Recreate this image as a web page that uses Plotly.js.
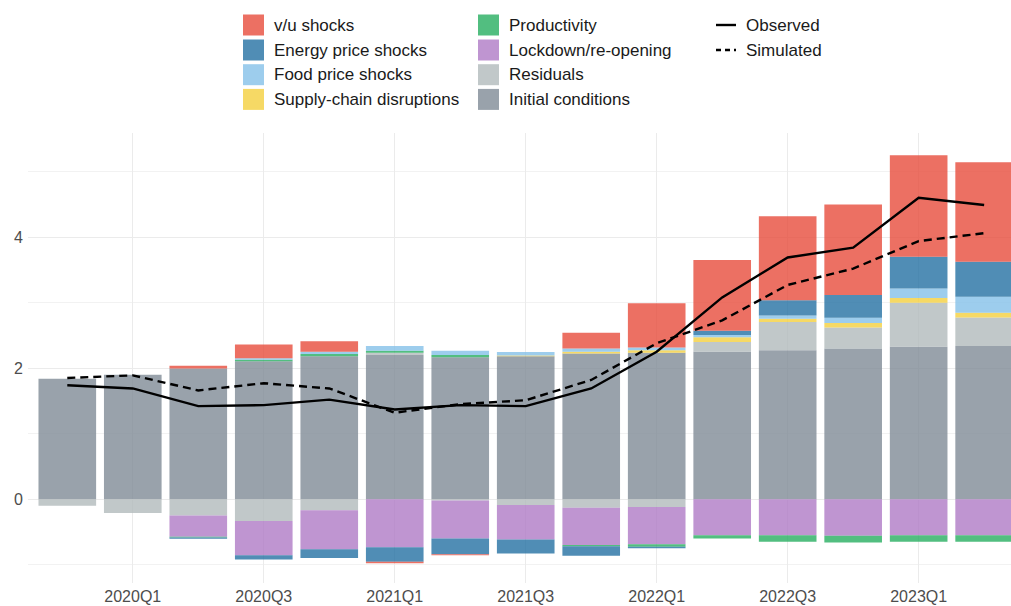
<!DOCTYPE html>
<html>
<head>
<meta charset="utf-8">
<script src="https://cdn.plot.ly/plotly-3.0.1.min.js"></script>
<style>
  html, body { margin: 0; padding: 0; background: #ffffff; }
  #chart { width: 1011px; height: 606px; }
</style>
</head>
<body>
<div id="chart"></div>
<script>
// Quarterly contributions to inflation (percentage points)
const quarters = ['2019Q4', '2020Q1', '2020Q2', '2020Q3', '2020Q4', '2021Q1', '2021Q2', '2021Q3',
                  '2021Q4', '2022Q1', '2022Q2', '2022Q3', '2022Q4', '2023Q1', '2023Q2'];
const tickQuarters = ['2020Q1', '2020Q3', '2021Q1', '2021Q3', '2022Q1', '2022Q3', '2023Q1'];

const initialConditions = [1.84, 1.90, 1.995, 2.105, 2.18, 2.20, 2.165, 2.18, 2.225, 2.235, 2.25, 2.275, 2.30, 2.325, 2.34];
const residuals         = [-0.10, -0.21, -0.25, -0.335, -0.17, 0.035, -0.02, -0.09, -0.13, -0.12, 0.15, 0.43, 0.32, 0.675, 0.435];
const lockdown          = [0, 0, -0.325, -0.52, -0.595, -0.735, -0.58, -0.525, -0.57, -0.57, -0.55, -0.55, -0.56, -0.55, -0.55];
const productivity      = [0, 0, -0.01, 0.025, 0.035, 0.03, 0.035, 0, -0.02, -0.035, -0.05, -0.10, -0.10, -0.10, -0.10];
const supplyChain       = [0, 0, 0, 0, 0, 0, 0, 0.015, 0.025, 0.04, 0.07, 0.05, 0.07, 0.07, 0.07];
const foodPrice         = [0, 0, 0, 0.02, 0.035, 0.075, 0.065, 0.05, 0.05, 0.04, 0.035, 0.05, 0.08, 0.145, 0.245];
const energyPrice       = [0, 0, -0.02, -0.065, -0.135, -0.22, -0.24, -0.215, -0.145, -0.025, 0.065, 0.23, 0.345, 0.485, 0.535];
const vuShocks          = [0, 0, 0.04, 0.21, 0.16, -0.025, -0.015, 0, 0.24, 0.675, 1.08, 1.285, 1.385, 1.55, 1.52];

const observed  = [1.74, 1.69, 1.42, 1.435, 1.52, 1.37, 1.435, 1.42, 1.69, 2.25, 3.08, 3.69, 3.84, 4.60, 4.49];
const simulated = [1.85, 1.89, 1.66, 1.77, 1.69, 1.32, 1.45, 1.51, 1.82, 2.38, 2.73, 3.27, 3.52, 3.94, 4.06];

// Stacking order: first component sits next to zero
const components = [
  { name: 'Initial conditions',    values: initialConditions, color: '#808B96' },
  { name: 'Residuals',             values: residuals,         color: '#B2BABB' },
  { name: 'Lockdown/re-opening',   values: lockdown,          color: '#AF7AC5' },
  { name: 'Productivity',          values: productivity,      color: '#27AE60' },
  { name: 'Supply-chain disruptions', values: supplyChain,    color: '#F4D03F' },
  { name: 'Food price shocks',     values: foodPrice,         color: '#85C1E9' },
  { name: 'Energy price shocks',   values: energyPrice,       color: '#2471A3' },
  { name: 'v/u shocks',            values: vuShocks,          color: '#E74C3C' }
];
const barAlpha = 0.8;

const traces = components.map(c => ({
  type: 'bar',
  name: c.name,
  x: quarters,
  y: c.values,
  marker: { color: c.color, opacity: barAlpha, line: { width: 0 } },
  showlegend: false,
  hoverinfo: 'x+y+name'
}));

traces.push({
  type: 'scatter', mode: 'lines', name: 'Observed',
  x: quarters, y: observed,
  line: { color: '#000000', width: 2.4 },
  showlegend: false
});
traces.push({
  type: 'scatter', mode: 'lines', name: 'Simulated',
  x: quarters, y: simulated,
  line: { color: '#000000', width: 2.4, dash: '8px,5px' },
  showlegend: false
});

// Plot area geometry (pixels) used to place the key above the panel
const W = 1011, H = 606;
const M = { l: 28, r: 0, t: 133, b: 23 };
const plotW = W - M.l - M.r, plotH = H - M.t - M.b;
const px = x => (x - M.l) / plotW;
const py = y => (H - M.b - y) / plotH;

// Key: three columns
const keyColumns = [
  { swatchX: 243, textX: 273, items: ['v/u shocks', 'Energy price shocks', 'Food price shocks', 'Supply-chain disruptions'] },
  { swatchX: 478, textX: 508, items: ['Productivity', 'Lockdown/re-opening', 'Residuals', 'Initial conditions'] }
];
const lineKeys = [
  { name: 'Observed', dash: 'solid' },
  { name: 'Simulated', dash: 'dash' }
];
const rowY = [25, 50, 74.7, 99.4];
const swatch = 21;

const shapes = [];
const annotations = [];
const keyFont = { family: 'Liberation Sans, Arial, sans-serif', size: 17, color: '#1a1a1a' };

keyColumns.forEach(col => {
  col.items.forEach((name, i) => {
    const comp = components.find(c => c.name === name);
    shapes.push({
      type: 'rect', xref: 'paper', yref: 'paper',
      x0: px(col.swatchX), x1: px(col.swatchX + swatch),
      y0: py(rowY[i] + swatch / 2), y1: py(rowY[i] - swatch / 2),
      fillcolor: comp.color, opacity: barAlpha, line: { width: 0 }, layer: 'above'
    });
    annotations.push({
      xref: 'paper', yref: 'paper', x: px(col.textX), y: py(rowY[i]),
      xanchor: 'left', yanchor: 'middle', text: name, showarrow: false,
      font: keyFont, borderpad: 0
    });
  });
});
lineKeys.forEach((k, i) => {
  shapes.push({
    type: 'line', xref: 'paper', yref: 'paper',
    x0: px(716), x1: px(736), y0: py(rowY[i]), y1: py(rowY[i]),
    line: { color: '#000000', width: 2.4, dash: k.dash === 'solid' ? 'solid' : '5px,4px' }
  });
  annotations.push({
    xref: 'paper', yref: 'paper', x: px(745), y: py(rowY[i]),
    xanchor: 'left', yanchor: 'middle', text: k.name, showarrow: false,
    font: keyFont, borderpad: 0
  });
});

const tickFont = { family: 'Liberation Sans, Arial, sans-serif', size: 16, color: '#4d4d4d' };

const layout = {
  width: W, height: H,
  margin: M,
  paper_bgcolor: '#ffffff',
  plot_bgcolor: '#ffffff',
  barmode: 'relative',
  bargap: 0.12,
  showlegend: false,
  xaxis: {
    type: 'category',
    categoryorder: 'array',
    categoryarray: quarters,
    range: [-0.6, 14.41],
    tickmode: 'array',
    tickvals: tickQuarters,
    ticktext: tickQuarters,
    ticks: '',
    showgrid: true,
    gridcolor: '#ebebeb',
    gridwidth: 1,
    zeroline: false,
    showline: false,
    tickfont: tickFont,
    ticklabelstandoff: 2,
    fixedrange: true
  },
  yaxis: {
    range: [-1.28, 5.59],
    tickmode: 'linear',
    tick0: 0,
    dtick: 2,
    ticks: '',
    showgrid: true,
    gridcolor: '#ebebeb',
    gridwidth: 1,
    minor: { dtick: 1, tick0: 0, showgrid: true, gridcolor: '#f2f2f2', gridwidth: 1 },
    zeroline: false,
    showline: false,
    tickfont: tickFont,
    ticklabelstandoff: 4,
    fixedrange: true
  },
  shapes: shapes,
  annotations: annotations
};

Plotly.newPlot('chart', traces, layout, { displayModeBar: false, staticPlot: true });
</script>
</body>
</html>
